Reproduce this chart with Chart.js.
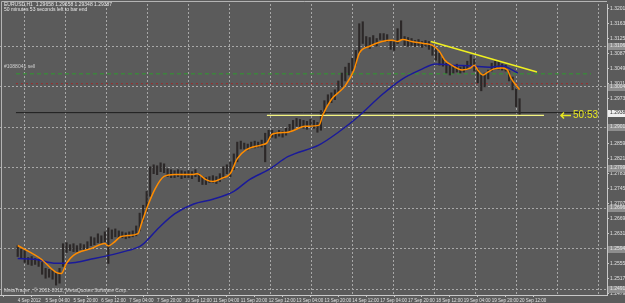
<!DOCTYPE html>
<html>
<head>
<meta charset="utf-8">
<script src="https://cdn.jsdelivr.net/npm/chart.js@4.4.0/dist/chart.umd.min.js"></script>
<style>
  html, body { margin: 0; padding: 0; background: #5b5b5b; }
  #wrap { width: 625px; height: 303px; }
</style>
</head>
<body>
<div id="wrap"><canvas id="chart"></canvas></div>
<script>
// EURUSD H1 in 2-hour steps (x = hours since 4 Sep 12:00)
const highs = [
  1.26015, 1.2594, 1.2589, 1.25715, 1.2574, 1.2569, 1.25665, 1.2559, 1.2544, 1.25415,
  1.2539, 1.2534, 1.2544, 1.26065, 1.2609, 1.2604, 1.26065, 1.26015, 1.26065, 1.2604,
  1.26115, 1.2624, 1.26215, 1.26315, 1.26265, 1.26365, 1.26465, 1.26415, 1.2644, 1.2639,
  1.26365, 1.2634, 1.26365, 1.2639, 1.26515, 1.2684, 1.2704, 1.2739, 1.28015, 1.28065,
  1.2804, 1.28115, 1.2809, 1.27965, 1.2794, 1.27915, 1.2794, 1.27915, 1.2789, 1.27915,
  1.2789, 1.2794, 1.2784, 1.27765, 1.2774, 1.27765, 1.2779, 1.27765, 1.2784, 1.28015,
  1.28065, 1.2814, 1.2834, 1.2864, 1.28665, 1.28615, 1.2859, 1.2864, 1.28665, 1.2864,
  1.2869, 1.28865, 1.2894, 1.2894, 1.2889, 1.2894, 1.28915, 1.2899, 1.2909, 1.2919,
  1.2924, 1.29215, 1.2919, 1.29165, 1.29215, 1.2919, 1.2914, 1.2944, 1.2969, 1.2984,
  1.2989, 1.29965, 1.3019, 1.3039, 1.3054, 1.3064, 1.30765, 1.30965, 1.3164, 1.3169,
  1.31315, 1.3129, 1.3134, 1.31265, 1.3139, 1.3139, 1.31365, 1.31215, 1.3119, 1.31515,
  1.31715, 1.31315, 1.3129, 1.31265, 1.31215, 1.3124, 1.3119, 1.31215, 1.3119, 1.3109,
  1.31015, 1.3089, 1.30765, 1.3064, 1.3059, 1.30565, 1.30615, 1.3054, 1.30565, 1.3069,
  1.3084, 1.3074, 1.3049, 1.3034, 1.3039, 1.30465, 1.3064, 1.3069, 1.3069, 1.30615,
  1.3059, 1.3044, 1.3029, 1.2999, 1.2974
];
const lows = [
  1.2574, 1.2569, 1.2559, 1.2554, 1.25515, 1.2554, 1.2549, 1.2529, 1.2519, 1.25215,
  1.25165, 1.25015, 1.25065, 1.2549, 1.2584, 1.2589, 1.25865, 1.25865, 1.25915, 1.2589,
  1.2594, 1.26015, 1.2604, 1.2609, 1.26065, 1.26115, 1.25565, 1.2619, 1.2624, 1.26215,
  1.26215, 1.2619, 1.26215, 1.2624, 1.26265, 1.2639, 1.2664, 1.2689, 1.27265, 1.2784,
  1.27815, 1.2789, 1.27865, 1.27765, 1.2774, 1.2774, 1.27765, 1.27715, 1.2774, 1.2774,
  1.27715, 1.27765, 1.2764, 1.27565, 1.27565, 1.27615, 1.27615, 1.2759, 1.2764, 1.27715,
  1.2784, 1.27765, 1.2794, 1.2814, 1.28465, 1.28465, 1.2844, 1.2849, 1.2849, 1.28515,
  1.28515, 1.2814, 1.2869, 1.28765, 1.2874, 1.2879, 1.28765, 1.28815, 1.2889, 1.28965,
  1.2904, 1.29015, 1.2899, 1.28965, 1.2904, 1.2899, 1.2889, 1.2894, 1.2934, 1.2959,
  1.2964, 1.29715, 1.2989, 1.3004, 1.3019, 1.3034, 1.3044, 1.3059, 1.3089, 1.3114,
  1.3104, 1.31015, 1.3109, 1.31065, 1.3124, 1.31215, 1.3119, 1.3099, 1.30965, 1.3114,
  1.31265, 1.3109, 1.31065, 1.3109, 1.31065, 1.3109, 1.3104, 1.31065, 1.3099, 1.3084,
  1.30715, 1.3059, 1.30565, 1.3039, 1.3034, 1.3039, 1.30415, 1.3039, 1.30415, 1.3049,
  1.3059, 1.3044, 1.3014, 1.2994, 1.3004, 1.3024, 1.3044, 1.3049, 1.3049, 1.30465,
  1.3044, 1.3019, 1.29965, 1.2954, 1.2934
];
const barHours = highs.map((_, k) => k * 2);

// moving averages (orange fast, blue slow)
const fastX = [0,13,22,25,28,32,42,50,52,55,59,63,69,71,75,79,84,90,101,103,108,112,117,122,126,131,140,143,146,155,165,173,175,180,188,193,196,202,209,215,218,221,226,233,238,242,245,249,255,260,262,264,267,269,273,278,281,283,288];
const fastMa = [1.2602,1.2569,1.2534,1.2531,1.2557,1.2577,1.2594,1.2607,1.2601,1.2609,1.2624,1.2627,1.2632,1.2657,1.2707,1.2747,1.2777,1.2782,1.2782,1.2784,1.2769,1.2764,1.2772,1.2784,1.2822,1.2844,1.2857,1.2862,1.2884,1.2889,1.2904,1.2907,1.2932,1.2972,1.3007,1.3047,1.3089,1.3107,1.3119,1.3122,1.3119,1.3124,1.3119,1.3114,1.3109,1.3094,1.3072,1.3059,1.3047,1.3052,1.3059,1.3047,1.3034,1.3039,1.3049,1.3052,1.3047,1.3027,1.2997];
const slowX = [0,10,22,28,44,63,71,81,90,101,112,124,133,144,155,173,184,195,209,220,231,240,249,260,271,278,287];
const slowMa = [1.2569,1.2567,1.2557,1.2557,1.2569,1.2589,1.2602,1.2647,1.2682,1.2707,1.2719,1.2739,1.2769,1.2794,1.2827,1.2857,1.2889,1.2927,1.2984,1.3022,1.3047,1.3062,1.3059,1.3057,1.3054,1.3057,1.3039];

// drawn objects
const trendX = [237, 298];
const trendY = [1.3119, 1.30415];
const supportX = [143, 302];
const supportLevel = 1.29315;
const bidPrice = 1.29387;
const sellLevel = 1.3037;
const exitLevel = 1.3012;

const dateLabels = ['4 Sep 2012', '5 Sep 04:00', '5 Sep 20:00', '6 Sep 12:00', '7 Sep 04:00', '7 Sep 20:00',
  '10 Sep 12:00', '11 Sep 04:00', '11 Sep 20:00', '12 Sep 12:00', '13 Sep 04:00', '13 Sep 20:00',
  '14 Sep 12:00', '17 Sep 04:00', '17 Sep 20:00', '18 Sep 12:00', '19 Sep 04:00', '19 Sep 20:00', '20 Sep 12:00'];
const priceTicks = [1.32015, 1.31635, 1.31255, 1.30875, 1.30495, 1.30115, 1.29735, 1.29355, 1.28975, 1.28595,
  1.28215, 1.27835, 1.27455, 1.27075, 1.26695, 1.26315, 1.25935, 1.25555, 1.25175, 1.24795];
const gridPrices = [1.31065, 1.3004, 1.29015, 1.2799, 1.26965, 1.2594, 1.24915];

const headerLines = ['EURUSD,H1  1.29658 1.29658 1.29348 1.29387', '50 minutes 53 seconds left to bar end'];
const orderLabel = '#1088041 sell';
const copyright = 'MetaTrader , © 2001-2012, MetaQuotes Software Corp.';
const timerLabel = '50:53';

const FONT = '"Liberation Sans", Arial, sans-serif';
const SMALL = 5;
const X_MIN = -1, X_MAX = 329, Y_MIN = 1.24765, Y_MAX = 1.3214;

const pts = (xs, ys) => xs.map((x, k) => ({ x, y: ys[k] }));
const flat = (x0, x1, v) => [{ x: x0, y: v }, { x: x1, y: v }];

const bgPlugin = {
  id: 'bg',
  beforeDraw(chart) {
    const c = chart.ctx;
    c.save();
    c.fillStyle = '#5b5b5b';
    c.fillRect(0, 0, chart.width, chart.height);
    c.restore();
  }
};

const overlayPlugin = {
  id: 'overlay',
  afterDraw(chart) {
    const c = chart.ctx, a = chart.chartArea, ys = chart.scales.y;
    c.save();
    c.strokeStyle = '#b4b4b4';
    c.lineWidth = 1;
    c.beginPath();
    c.moveTo(1.5, a.bottom); c.lineTo(1.5, 1.5); c.lineTo(a.right, 1.5);
    c.stroke();

    c.font = SMALL + 'px ' + FONT;
    c.textBaseline = 'middle';
    c.textAlign = 'left';
    gridPrices.forEach(p => {
      const py = Math.round(ys.getPixelForValue(p));
      c.fillStyle = '#8e8e8e';
      c.fillRect(a.right + 1, py - 3, 24, 7);
      c.fillStyle = '#e4e4e4';
      c.fillText(p.toFixed(5), a.right + 3, py);
    });
    const by = Math.round(ys.getPixelForValue(bidPrice));
    c.fillStyle = '#eeeeee';
    c.fillRect(a.right + 1, by - 3, 24, 7);
    c.fillStyle = '#303030';
    c.fillText(bidPrice.toFixed(5), a.right + 3, by);

    c.fillStyle = '#e6e6e6';
    c.fillText(headerLines[0], 4, 5);
    c.fillText(headerLines[1], 4, 10);
    c.fillStyle = '#d0d0d0';
    c.fillText(orderLabel, 4, 67);
    c.fillText(copyright, 4, 291);

    // timer arrow and label
    const sy = ys.getPixelForValue(supportLevel);
    c.strokeStyle = '#e8e820';
    c.fillStyle = '#e8e820';
    c.lineWidth = 1.5;
    c.beginPath();
    c.moveTo(561, sy); c.lineTo(571, sy);
    c.moveTo(564, sy - 3); c.lineTo(561, sy); c.lineTo(564, sy + 3);
    c.stroke();
    c.font = '10px ' + FONT;
    c.fillText(timerLabel, 573, sy);
    c.restore();
  }
};

new Chart(document.getElementById('chart'), {
  type: 'bar',
  data: {
    datasets: [
      { type: 'line', data: pts(trendX, trendY), borderColor: '#f0f020', borderWidth: 1.5, pointRadius: 0, order: 0 },
      { type: 'line', data: pts(fastX, fastMa), borderColor: '#ff8c00', borderWidth: 1.5, pointRadius: 0, cubicInterpolationMode: 'monotone', order: 1 },
      { type: 'line', data: pts(slowX, slowMa), borderColor: '#1a1a9a', borderWidth: 1.5, pointRadius: 0, cubicInterpolationMode: 'monotone', order: 2 },
      { type: 'bar', data: barHours.map((x, k) => ({ x, y: [lows[k], highs[k]] })), backgroundColor: '#2c2828', barThickness: 1.5, grouped: false, order: 5 },
      { type: 'line', data: flat(supportX[0], supportX[1], supportLevel), borderColor: '#f4f480', borderWidth: 1.2, pointRadius: 0, order: 3 },
      { type: 'line', data: flat(X_MIN, X_MAX, bidPrice), borderColor: '#1e1e1e', borderWidth: 1, pointRadius: 0, order: 6 },
      { type: 'line', data: flat(X_MIN, X_MAX, sellLevel), borderColor: '#2e9a2e', borderWidth: 1, borderDash: [4, 3], pointRadius: 0, order: 7 },
      { type: 'line', data: flat(X_MIN, X_MAX, exitLevel), borderColor: '#a02a2a', borderWidth: 1, borderDash: [2, 3], pointRadius: 0, order: 8 }
    ]
  },
  options: {
    responsive: true,
    maintainAspectRatio: false,
    devicePixelRatio: 1,
    animation: false,
    layout: { padding: 0 },
    plugins: { legend: { display: false }, tooltip: { enabled: false }, title: { display: false } },
    scales: {
      x: {
        type: 'linear', position: 'bottom', min: X_MIN, max: X_MAX,
        afterBuildTicks: s => { s.ticks = dateLabels.map((_, n) => ({ value: n * 16 })); },
        afterFit: s => { s.height = 8; },
        ticks: { callback: (v, i) => dateLabels[i], align: 'start', maxRotation: 0, autoSkip: false, color: '#e0e0e0', font: { size: 4.5, family: FONT }, padding: 1 },
        grid: { drawOnChartArea: false, tickLength: 2, color: '#c8c8c8' },
        border: { color: '#c8c8c8' }
      },
      xg: {
        type: 'linear', position: 'bottom', min: X_MIN, max: X_MAX,
        afterBuildTicks: s => { const t = []; for (let v = 12.5; v < X_MAX; v += 24) t.push({ value: v }); s.ticks = t; },
        afterFit: s => { s.height = 0; },
        ticks: { display: false },
        grid: { color: '#a8a8a8', drawTicks: false },
        border: { display: false, dash: [2, 2] }
      },
      y: {
        type: 'linear', position: 'right', min: Y_MIN, max: Y_MAX,
        afterBuildTicks: s => { s.ticks = priceTicks.map(v => ({ value: v })); },
        afterFit: s => { s.width = 18; },
        ticks: { callback: v => v.toFixed(5), autoSkip: false, color: '#e0e0e0', font: { size: SMALL, family: FONT }, padding: 1 },
        grid: { drawOnChartArea: false, tickLength: 2, color: '#c8c8c8' },
        border: { color: '#c8c8c8' }
      },
      yg: {
        type: 'linear', position: 'right', min: Y_MIN, max: Y_MAX,
        afterBuildTicks: s => { s.ticks = gridPrices.map(v => ({ value: v })); },
        afterFit: s => { s.width = 0; },
        ticks: { display: false },
        grid: { color: '#a8a8a8', drawTicks: false },
        border: { display: false, dash: [2, 2] }
      }
    }
  },
  plugins: [bgPlugin, overlayPlugin]
});
</script>
</body>
</html>
